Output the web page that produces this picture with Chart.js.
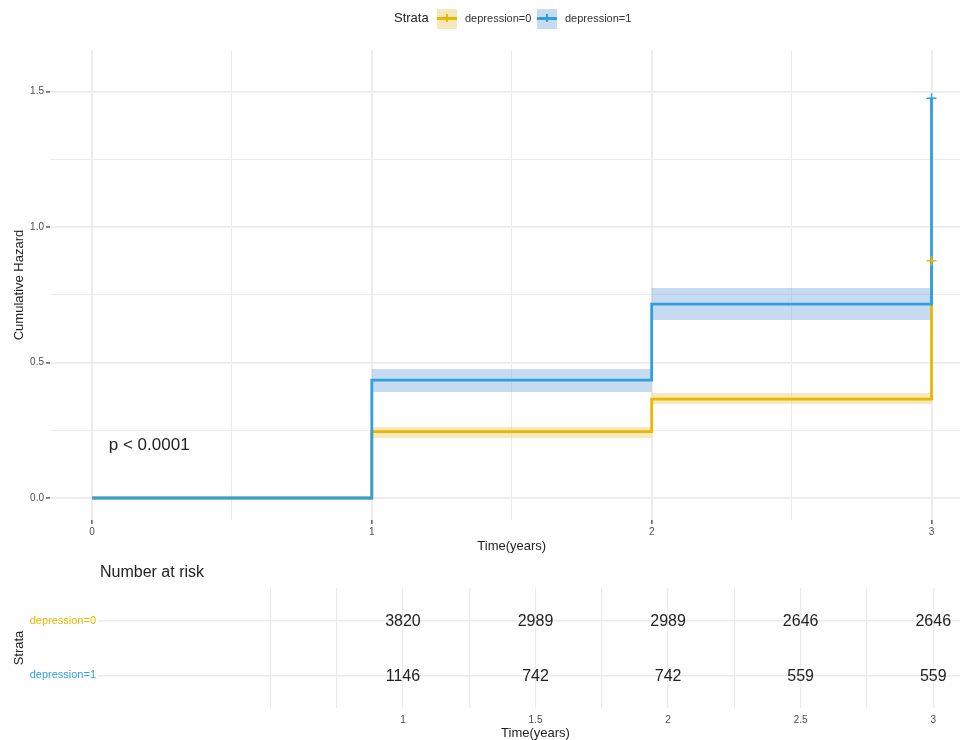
<!DOCTYPE html>
<html>
<head>
<meta charset="utf-8">
<title>Cumulative hazard by depression</title>
<script src="https://cdn.jsdelivr.net/npm/chart.js@4.4.1/dist/chart.umd.min.js"></script>
<style>
  html, body { margin: 0; padding: 0; background: #fff; }
  #wrap { position: relative; width: 960px; height: 740px; overflow: hidden;
          font-family: "Liberation Sans", Arial, Helvetica, sans-serif; }
  #main { position: absolute; left: 0; top: 0; }
  #risk { position: absolute; left: 0; top: 556px; }
  .txt { position: absolute; white-space: nowrap; line-height: 1; }
  .key { position: absolute; top: 9px; width: 20px; height: 20px; }
  .key .ln { position: absolute; left: 0; right: 0; top: 8px; height: 3px; }
  .key .tk { position: absolute; left: 9px; width: 1.5px; top: 5px; height: 8px; }
</style>
</head>
<body>
<div id="wrap">
  <canvas id="main" width="980" height="556"></canvas>
  <canvas id="risk" width="976" height="184"></canvas>

  <!-- legend -->
  <div class="txt" style="left:394px; top:11px; font-size:13px; color:#222;">Strata</div>
  <div class="key" style="left:437px; background:rgb(247,231,188);">
    <div class="ln" style="background:#E7B800;"></div><div class="tk" style="background:#E7B800;"></div>
  </div>
  <div class="txt" style="left:465px; top:13px; font-size:11px; color:#333;">depression=0</div>
  <div class="key" style="left:537px; background:rgb(198,219,242);">
    <div class="ln" style="background:#2E9FDF;"></div><div class="tk" style="background:#2E9FDF;"></div>
  </div>
  <div class="txt" style="left:565px; top:13px; font-size:11px; color:#333;">depression=1</div>

  <div class="txt" style="left:100px; top:564px; font-size:16px; color:#222;">Number at risk</div>
</div>

<script>
// ---- data ----
const strata = ['depression=0', 'depression=1'];
const strataColors = ['#E7B800', '#2E9FDF'];

// cumulative hazard step function, values after each event time
const times = [0, 1, 2, 3];
const hazardDep0 = [0, 0.245, 0.365, 0.875];
const hazardDep1 = [0, 0.435, 0.715, 1.475];

// confidence band for the steps starting at ciTimes, held until the last time
const ciTimes = [1, 2];
const lowerDep0 = [0.221, 0.347];
const upperDep0 = [0.262, 0.387];
const lowerDep1 = [0.391, 0.657];
const upperDep1 = [0.476, 0.775];

// censoring marks
const censorTimes = [3];
const censorDep0 = [0.875];
const censorDep1 = [1.475];

// axis ticks
const hazardTicks = [0, 0.5, 1.0, 1.5];
const hazardGrid = [0, 0.25, 0.5, 0.75, 1.0, 1.25, 1.5];
const timeTicks = [0, 1, 2, 3];
const timeGrid = [0, 0.5, 1, 1.5, 2, 2.5, 3];

// number at risk table
const riskTimes = [1, 1.5, 2, 2.5, 3];
const riskDep0 = [3820, 2989, 2989, 2646, 2646];
const riskDep1 = [1146, 742, 742, 559, 559];
const riskGrid = [0.5, 0.75, 1, 1.25, 1.5, 1.75, 2, 2.25, 2.5, 2.75, 3];

// ---- helpers ----
const FONT = '"Liberation Sans", Arial, Helvetica, sans-serif';
const GRID = '#ebebeb';
const endTime = times[times.length - 1];

const stepPoints = (xs, ys) => xs.map((x, i) => ({ x, y: ys[i] }));
function bandPoints(values) {
  const pts = stepPoints(ciTimes, values);
  pts.push({ x: endTime, y: values[values.length - 1] });
  return pts;
}
const near = (list, v) => list.some(t => Math.abs(t - v) < 1e-9);

// p-value annotation drawn in data coordinates
const pValueNote = {
  id: 'pValueNote',
  afterDatasetsDraw(chart, args, opts) {
    const { ctx, scales } = chart;
    ctx.save();
    ctx.font = '17px ' + FONT;
    ctx.fillStyle = '#222';
    ctx.textAlign = 'left';
    ctx.textBaseline = 'middle';
    ctx.fillText(opts.text, scales.x.getPixelForValue(opts.x), scales.y.getPixelForValue(opts.y));
    ctx.restore();
  }
};

// ---- cumulative hazard chart ----
new Chart(document.getElementById('main'), {
  type: 'line',
  data: {
    datasets: [
      { label: strata[1], data: stepPoints(times, hazardDep1), stepped: true,
        borderColor: strataColors[1], borderWidth: 2.8, pointRadius: 0, fill: false, order: 1 },
      { label: strata[0], data: stepPoints(times, hazardDep0), stepped: true,
        borderColor: strataColors[0], borderWidth: 2.8, pointRadius: 0, fill: false, order: 2 },
      { label: 'censor1', data: stepPoints(censorTimes, censorDep1), showLine: false,
        pointStyle: 'cross', pointRadius: 5, borderWidth: 1.5, borderColor: strataColors[1], order: 0 },
      { label: 'censor0', data: stepPoints(censorTimes, censorDep0), showLine: false,
        pointStyle: 'cross', pointRadius: 5, borderWidth: 1.5, borderColor: strataColors[0], order: 0 },
      { label: 'upper1', data: bandPoints(upperDep1), stepped: true, borderWidth: 0, pointRadius: 0,
        fill: '+1', backgroundColor: 'rgba(120,170,225,0.42)', order: 5 },
      { label: 'lower1', data: bandPoints(lowerDep1), stepped: true, borderWidth: 0, pointRadius: 0,
        fill: false, order: 6 },
      { label: 'upper0', data: bandPoints(upperDep0), stepped: true, borderWidth: 0, pointRadius: 0,
        fill: '+1', backgroundColor: 'rgba(235,190,60,0.35)', order: 7 },
      { label: 'lower0', data: bandPoints(lowerDep0), stepped: true, borderWidth: 0, pointRadius: 0,
        fill: false, order: 8 }
    ]
  },
  options: {
    responsive: false,
    animation: false,
    events: [],
    layout: { padding: { top: 50, left: 0, right: 2, bottom: 0 } },
    plugins: {
      legend: { display: false },
      tooltip: { enabled: false },
      pValueNote: { text: 'p < 0.0001', x: 0.06, y: 0.195 }
    },
    scales: {
      x: {
        type: 'linear', min: -0.15, max: 3.15, bounds: 'data',
        afterBuildTicks: s => { s.ticks = timeGrid.map(v => ({ value: v })); },
        afterFit: s => { s.height = 36; },
        border: { display: false },
        grid: {
          color: GRID,
          lineWidth: c => near(timeTicks, c.tick.value) ? 1.8 : 1,
          tickLength: 4, tickWidth: 1.2,
          tickColor: c => near(timeTicks, c.tick.value) ? '#333' : 'rgba(0,0,0,0)'
        },
        ticks: {
          autoSkip: false, maxRotation: 0, padding: 2,
          font: { size: 10, family: FONT }, color: '#4d4d4d',
          callback: v => near(timeTicks, v) ? String(v) : ''
        },
        title: { display: true, text: 'Time(years)', color: '#222',
                 font: { size: 13, family: FONT }, padding: { top: 0, bottom: 2 } }
      },
      y: {
        type: 'linear', min: -0.0812, max: 1.653, bounds: 'data',
        afterBuildTicks: s => { s.ticks = hazardGrid.map(v => ({ value: v })); },
        afterFit: s => { s.width = 50; },
        border: { display: false },
        grid: {
          color: GRID,
          lineWidth: c => near(hazardTicks, c.tick.value) ? 1.8 : 1,
          tickLength: 4, tickWidth: 1.2,
          tickColor: c => near(hazardTicks, c.tick.value) ? '#333' : 'rgba(0,0,0,0)'
        },
        ticks: {
          autoSkip: false, padding: 2,
          font: { size: 10, family: FONT }, color: '#4d4d4d',
          callback: v => near(hazardTicks, v) ? v.toFixed(1) : ''
        },
        title: { display: true, text: 'Cumulative Hazard', color: '#222',
                 font: { size: 13, family: FONT }, padding: { top: 12, bottom: 0 } }
      }
    }
  },
  plugins: [pValueNote]
});

// ---- number at risk table ----
const riskCounts = {
  id: 'riskCounts',
  afterDatasetsDraw(chart) {
    const ctx = chart.ctx;
    ctx.save();
    ctx.font = '16px ' + FONT;
    ctx.fillStyle = '#222';
    ctx.textAlign = 'center';
    ctx.textBaseline = 'middle';
    chart.data.datasets.forEach((ds, di) => {
      chart.getDatasetMeta(di).data.forEach((pt, j) => {
        ctx.fillText(String(ds.counts[j]), pt.x, pt.y + 1);
      });
    });
    ctx.restore();
  }
};

new Chart(document.getElementById('risk'), {
  type: 'scatter',
  data: {
    datasets: [
      { label: strata[0], counts: riskDep0, data: riskTimes.map(t => ({ x: t, y: 1 })), pointRadius: 0 },
      { label: strata[1], counts: riskDep1, data: riskTimes.map(t => ({ x: t, y: 2 })), pointRadius: 0 }
    ]
  },
  options: {
    responsive: false,
    animation: false,
    events: [],
    layout: { padding: { top: 32, left: 0, right: 3, bottom: 0 } },
    plugins: { legend: { display: false }, tooltip: { enabled: false } },
    scales: {
      x: {
        type: 'linear', min: -0.15, max: 3.15, bounds: 'data',
        afterBuildTicks: s => { s.ticks = riskGrid.map(v => ({ value: v })); },
        afterFit: s => { s.height = 32; },
        border: { display: false },
        grid: { color: GRID, lineWidth: 1.2, drawTicks: false },
        ticks: {
          autoSkip: false, maxRotation: 0, padding: 6,
          font: { size: 10, family: FONT }, color: '#4d4d4d',
          callback: v => near(riskTimes, v) ? String(v) : ''
        },
        title: { display: true, text: 'Time(years)', color: '#222',
                 font: { size: 13, family: FONT }, padding: { top: 0, bottom: -1 } }
      },
      y: {
        type: 'linear', min: 0.4, max: 2.6, reverse: true, bounds: 'data',
        afterBuildTicks: s => { s.ticks = [1, 2].map(v => ({ value: v })); },
        afterFit: s => { s.width = 98; },
        border: { display: false },
        grid: { color: GRID, lineWidth: 1.5, drawTicks: false },
        ticks: {
          autoSkip: false, padding: 2,
          font: { size: 11, family: FONT },
          color: c => strataColors[c.index],
          callback: v => strata[v - 1]
        },
        title: { display: true, text: 'Strata', color: '#222',
                 font: { size: 13, family: FONT }, padding: { top: 12, bottom: 0 } }
      }
    }
  },
  plugins: [riskCounts]
});
</script>
</body>
</html>
